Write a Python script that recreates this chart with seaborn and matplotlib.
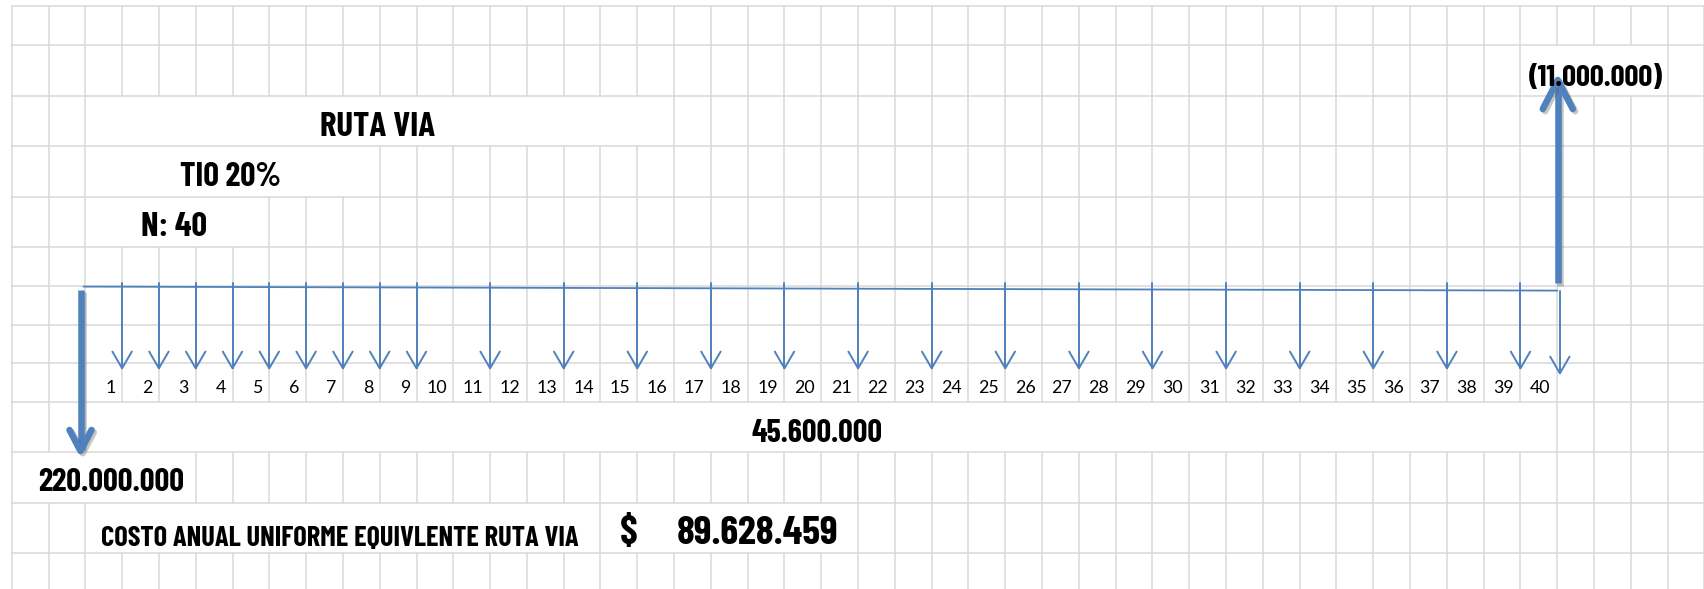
import numpy as np
import pandas as pd
import matplotlib
matplotlib.use("Agg")
import matplotlib.pyplot as plt
from matplotlib import font_manager as fm
from matplotlib import patheffects as pe
from matplotlib.textpath import TextPath
import seaborn as sns

# ---------------- data ----------------
project = "RUTA VIA"
rate_text = "TIO 20%"
horizon_text = "N: 40"
periods = [1, 2, 3, 4, 5, 6, 7, 8, 9, 10, 11, 12, 13, 14, 15, 16, 17, 18, 19, 20,
           21, 22, 23, 24, 25, 26, 27, 28, 29, 30, 31, 32, 33, 34, 35, 36, 37, 38, 39, 40]
payment_periods = [1, 2, 3, 4, 5, 6, 7, 8, 9, 11, 13, 15, 17, 19, 21, 23, 25, 27, 29,
                   31, 33, 35, 37, 39, 40]
annual_cost = 45_600_000
initial_investment = 220_000_000
salvage_value = 11_000_000
eac_caption = "COSTO ANUAL UNIFORME EQUIVLENTE RUTA VIA"
eac_value = 89_628_459


def thousands(v):
    return f"{v:,}".replace(",", ".")


# ---------------- sheet layout (pixels) ----------------
W, H, DPI = 1704, 589, 100
COL_W = 36.8          # width of one spreadsheet column
X_P0 = 85.3           # pixel position of period 0
ROW_LINES = [6, 45, 96, 146, 197, 247, 286, 325, 363, 402, 452, 503, 553, 604]
FIRST_COL, LAST_COL = -2, 44
# vertical grid segments hidden by merged cells / overflowing text, per row
HIDDEN = {
    1: [40, 41, 42],
    2: list(range(1, 16)),
    3: list(range(1, 8)),
    4: list(range(1, 5)),
    9: list(range(1, 40)),
    10: list(range(-1, 3)),
    11: list(range(1, 14)) + list(range(15, 21)),
}
BLUE = "#4F81BD"
GRID = "#D9D9D9"
K = DPI / 72.0


def px(x_pixel):
    """pixel column -> period axis units"""
    return (x_pixel - X_P0) / COL_W


def timeline_y(p):
    return 286.6 + 4.0 * p / periods[-1]


sns.set_theme(style="white")
plt.rcParams["font.family"] = ["Lato", "DejaVu Sans"]


def weight_num(w):
    named = {"ultralight": 200, "light": 300, "normal": 400, "regular": 400, "book": 400,
             "medium": 500, "semibold": 600, "demibold": 600, "bold": 700,
             "heavy": 800, "extra bold": 800, "black": 900}
    return w if isinstance(w, (int, float)) else named.get(str(w).lower(), 400)


def pick_bold_condensed(prefs):
    entries = [f for f in fm.fontManager.ttflist if f.style == "normal"]
    for fam in prefs:
        cands = [f for f in entries if f.name == fam and weight_num(f.weight) >= 700]
        if cands:
            best = min(cands, key=lambda f: abs(weight_num(f.weight) - 700))
            return fm.FontProperties(fname=best.fname)
    return fm.FontProperties(family="DejaVu Sans", weight="bold")


bold_fp = pick_bold_condensed(["Saira Extra Condensed", "Barlow Condensed",
                               "Big Shoulders Display", "Saira Condensed", "Oswald",
                               "Barlow Semi Condensed", "Cabin Condensed"])
num_fp = fm.FontProperties(family=["Lato", "DejaVu Sans"], size=12.8)

fig = plt.figure(figsize=(W / DPI, H / DPI), dpi=DPI)
ax = fig.add_axes([0, 0, 1, 1])
fig.patch.set_facecolor("white")

# ---------------- spreadsheet grid ----------------
for i in range(len(ROW_LINES) - 1):
    hide = set(HIDDEN.get(i, []))
    cols = [c for c in range(FIRST_COL, LAST_COL + 1) if c not in hide]
    ax.vlines(cols, ROW_LINES[i], ROW_LINES[i + 1], colors=GRID, lw=1.1, zorder=0)
ax.hlines(ROW_LINES, px(10.5), px(W + 10), colors=GRID, lw=1.1, zorder=0)

# ---------------- time line ----------------
t_start = 0 - 0.05
tl = pd.DataFrame({"x": [t_start, periods[-1]],
                   "y": [timeline_y(t_start), timeline_y(periods[-1])]})
sns.lineplot(data=tl, x="x", y="y", color=BLUE, lw=1.3, ax=ax, legend=False,
             estimator=None, sort=False)

# ---------------- annual payments (thin arrows) ----------------
shafts, heads = [], []
for i, p in enumerate(payment_periods):
    last = p == periods[-1]
    x = p + (0.07 if last else 0.0)
    top = timeline_y(p) if last else 283.3
    tip = 373.3 if last else 368.3
    hw = 9.7 / COL_W
    hh = 16.7
    shafts += [dict(seg=i, x=x, y=top), dict(seg=i, x=x, y=tip)]
    heads += [dict(seg=i, x=x - hw, y=tip - hh), dict(seg=i, x=x, y=tip),
              dict(seg=i, x=x + hw, y=tip - hh)]
sns.lineplot(data=pd.DataFrame(shafts), x="x", y="y", units="seg", estimator=None,
             sort=False, color=BLUE, lw=1.4, ax=ax, legend=False)
sns.lineplot(data=pd.DataFrame(heads), x="x", y="y", units="seg", estimator=None,
             sort=False, color=BLUE, lw=1.4, ax=ax, legend=False)

# ---------------- investment and salvage (thick arrows) ----------------
shadow = [pe.SimpleLineShadow(offset=(1.6, -1.6), shadow_color="0.35", alpha=0.35),
          pe.Normal()]
big_lw = 4.7

# initial investment, downward at period 0
xd = 0 - 0.13
ax.plot([xd, xd], [290, 448], color=BLUE, lw=big_lw, solid_capstyle="butt",
        path_effects=shadow, zorder=4)
ax.plot([xd - 11 / COL_W, xd, xd + 11 / COL_W], [430, 451, 430], color=BLUE, lw=big_lw,
        solid_capstyle="round", solid_joinstyle="round", path_effects=shadow, zorder=4)

# salvage value, upward at the last period
xu = periods[-1] + 0.013
ax.plot([xu, xu], [283.3, 82], color=BLUE, lw=big_lw, solid_capstyle="butt",
        path_effects=shadow, zorder=4)
ax.plot([xu - 15 / COL_W, xu, xu + 15 / COL_W], [109, 80, 109], color=BLUE, lw=big_lw,
        solid_capstyle="round", solid_joinstyle="round", path_effects=shadow, zorder=4)

# ---------------- period numbers ----------------
for n in periods:
    ax.text(n - 0.18, 392.7, str(n), ha="right", va="baseline", fontproperties=num_fp,
            color="black", zorder=3)


# ---------------- bold condensed labels ----------------
cap_unit = TextPath((0, 0), "H", size=1, prop=bold_fp).get_extents().height


def cond_text(s, x_pixel, base, width_px, cap_px, ha="center"):
    ink_w = TextPath((0, 0), s, size=1, prop=bold_fp).get_extents().width
    size_w = width_px / (ink_w * K)
    size_h = cap_px / (cap_unit * K)
    size = min(np.sqrt(size_w * size_h), 1.05 * size_w, 1.08 * size_h)
    fp = bold_fp.copy()
    fp.set_size(size)
    ax.text(px(x_pixel), base, s, ha=ha, va="baseline", fontproperties=fp,
            color="black", zorder=5)


cond_text(project, 378, 136, 108, 28)
cond_text(rate_text, 230.6, 186, 94, 28)
cond_text(horizon_text, 174, 236, 60.5, 29)
cond_text(f"({thousands(salvage_value)})", 1596, 86, 128, 24)
cond_text(thousands(annual_cost), 817, 442, 123, 27)
cond_text(thousands(initial_investment), 111, 491, 137, 26)
cond_text(eac_caption, 340, 546, 454, 23)
cond_text("$", 629, 544, 15, 29)
cond_text(thousands(eac_value), 838, 544, 155, 29, ha="right")

ax.set_xlim(px(0), px(W))
ax.set_ylim(H, 0)
ax.axis("off")

fig.savefig("out.png", dpi=DPI, facecolor="white")
